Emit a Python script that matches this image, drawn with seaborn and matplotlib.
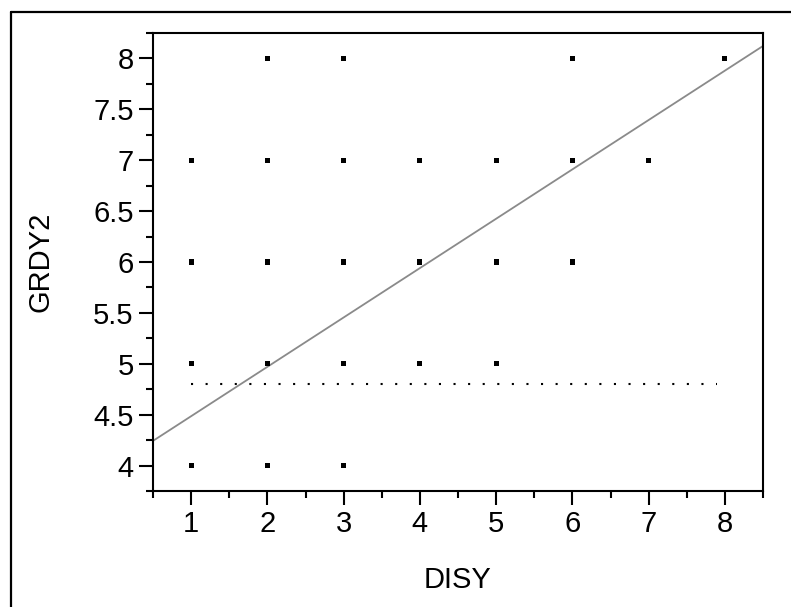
import matplotlib
matplotlib.use("Agg")
import matplotlib.pyplot as plt
from matplotlib.ticker import MultipleLocator
import seaborn as sns
import pandas as pd

# observed points (DISY, GRDY2)
disy = [2, 3, 6, 8,
        1, 2, 3, 4, 5, 6, 7,
        1, 2, 3, 4, 5, 6,
        1, 2, 3, 4, 5,
        1, 2, 3]
grdy2 = [8, 8, 8, 8,
         7, 7, 7, 7, 7, 7, 7,
         6, 6, 6, 6, 6, 6,
         5, 5, 5, 5, 5,
         4, 4, 4]

# fitted line and the dotted reference level
fit_intercept = 4.0
fit_slope = 0.485
ref_level = 4.8
ref_start = 1.0
ref_end = 7.9

df = pd.DataFrame({"DISY": disy, "GRDY2": grdy2})

sns.set_theme(style="ticks")
plt.rcParams["font.family"] = ["Liberation Sans", "DejaVu Sans"]

fig = plt.figure(figsize=(7.91, 6.07), dpi=100)
ax = fig.add_axes([153 / 791, 1 - 491 / 607, 610 / 791, 458 / 607])

sns.scatterplot(data=df, x="DISY", y="GRDY2", ax=ax, marker="s", s=13,
                color="black", edgecolor="none", linewidth=0, zorder=3)
ax.axline((0, fit_intercept), slope=fit_slope, color="#8a8a8a", lw=1.3, zorder=2)
ax.hlines(ref_level, ref_start, ref_end, colors="black", lw=1.5,
          linestyles=[(0, (1, 6.0))], zorder=2)

ax.set_xlim(0.5, 8.5)
ax.set_ylim(3.75, 8.25)
ax.xaxis.set_major_locator(MultipleLocator(1))
ax.xaxis.set_minor_locator(MultipleLocator(0.5))
ax.yaxis.set_minor_locator(MultipleLocator(0.25))
ax.set_yticks([4, 4.5, 5, 5.5, 6, 6.5, 7, 7.5, 8])
ax.set_yticklabels(["4", "4.5", "5", "5.5", "6", "6.5", "7", "7.5", "8"])

for sp in ax.spines.values():
    sp.set_visible(True)
    sp.set_linewidth(1.5)
    sp.set_color("black")

ax.tick_params(axis="both", which="major", length=10, width=1.5, color="black",
               labelsize=21, labelcolor="black", direction="out")
ax.tick_params(axis="both", which="minor", length=5, width=1.5, color="black",
               direction="out")
ax.tick_params(axis="x", which="major", pad=4)
ax.tick_params(axis="y", which="major", pad=4)

ax.set_xlabel("DISY", fontsize=21, color="black", va="top")
ax.set_ylabel("GRDY2", fontsize=21, color="black")
ax.xaxis.set_label_coords(0.5, -0.164)
ax.yaxis.set_label_coords(-0.161, 0.5)

# outer frame (left and top edges only)
fig.add_artist(plt.Line2D([11 / 791, 11 / 791], [0, 1 - 12 / 607],
                          transform=fig.transFigure, color="black", lw=1.6))
fig.add_artist(plt.Line2D([11 / 791, 1], [1 - 12 / 607, 1 - 12 / 607],
                          transform=fig.transFigure, color="black", lw=1.6))

fig.savefig("out.png", dpi=100)
